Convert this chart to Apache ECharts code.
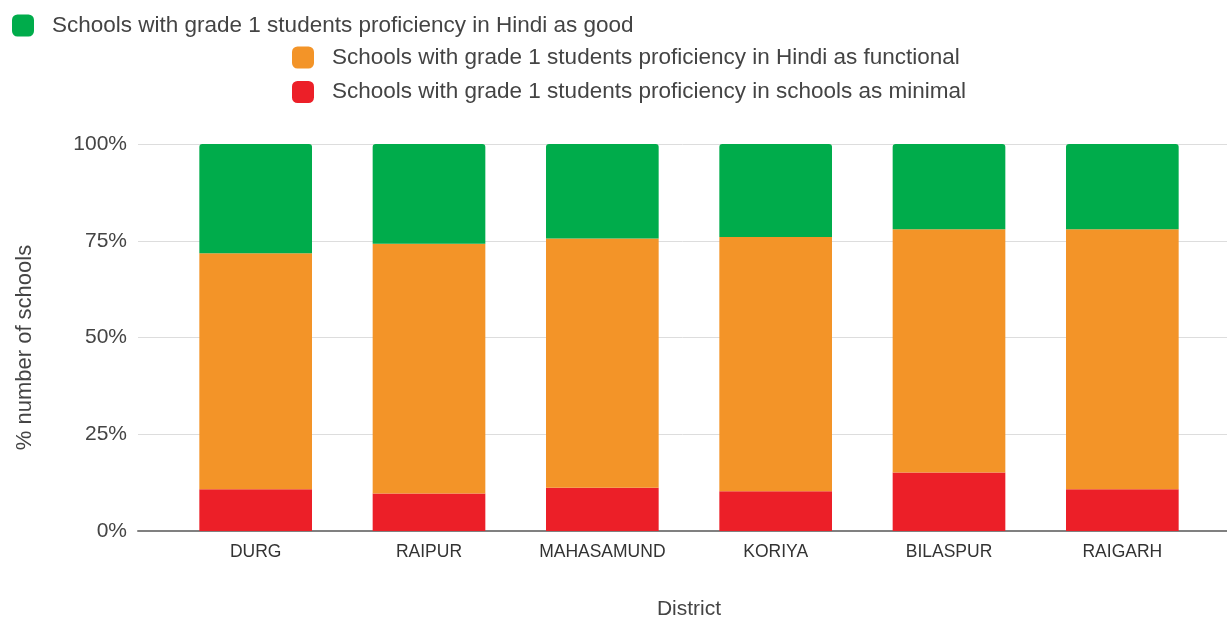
<!DOCTYPE HTML>
<html>
<head>
    <meta charset="utf-8">
    <title>Grade 1 Hindi proficiency by district</title>
    <script type="text/javascript" src="https://cdn.jsdelivr.net/npm/echarts@6/dist/echarts.min.js"></script>
</head>
<body style="padding:0px;margin:0px;background:#fff;">
    <div id="main" style="width:1227px;height:620px;padding:0px;margin:0px;"></div>
    <script type="text/javascript">
        // districts along the x axis
        var districts = ['DURG', 'RAIPUR', 'MAHASAMUND', 'KORIYA', 'BILASPUR', 'RAIGARH'];
        // share of schools (%) per proficiency level
        var minimalVals = [10.8, 9.7, 11.2, 10.3, 15.1, 10.8];
        var functionalVals = [61.0, 64.5, 64.4, 65.7, 62.9, 67.2];
        var goodVals = [28.2, 25.8, 24.4, 24.0, 22.0, 22.0];
        var yTicks = [0, 25, 50, 75, 100];

        var seriesNames = [
            'Schools with grade 1 students proficiency in Hindi as good',
            'Schools with grade 1 students proficiency in Hindi as functional',
            'Schools with grade 1 students proficiency in schools as minimal'
        ];

        var myChart = echarts.init(document.getElementById('main'));
        var fontFam = 'Liberation Sans, Arial, sans-serif';

        var legendStyle = {
            orient: 'vertical',
            icon: 'roundRect',
            itemWidth: 22,
            itemHeight: 22,
            itemGap: 11.5,
            textStyle: {
                color: '#444', fontSize: 22.5, lineHeight: 22, fontFamily: fontFam,
                padding: [0, 0, 0, 13]
            }
        };

        option = {
            backgroundColor: '#fff',
            animation: false,
            legend: [
                Object.assign({ left: 12, top: 14, padding: 0, data: [seriesNames[0]] }, legendStyle),
                Object.assign({ left: 292, top: 46, padding: 0, data: [seriesNames[1], seriesNames[2]] }, legendStyle)
            ],
            grid: [
                // background grid: gridlines, y labels, base line
                { left: 138, right: 0, top: 144, bottom: 89, outerBoundsMode: 'none' },
                // bar grid
                { left: 169, right: 18, top: 144, bottom: 89, outerBoundsMode: 'none' }
            ],
            xAxis: [
                {
                    type: 'value', gridIndex: 0, min: 0, max: 1,
                    axisLabel: { show: false }, axisTick: { show: false },
                    splitLine: { show: false },
                    axisLine: { show: true, onZero: false, lineStyle: { color: '#808080', width: 2 } }
                },
                {
                    type: 'category', gridIndex: 1, data: districts,
                    axisLine: { show: false }, axisTick: { show: false },
                    axisLabel: { color: '#333', fontSize: 17.5, fontFamily: fontFam, margin: 12 },
                    name: 'District', nameLocation: 'middle', nameGap: 68,
                    nameTextStyle: { color: '#444', fontSize: 21, fontFamily: fontFam }
                }
            ],
            yAxis: [
                {
                    type: 'value', gridIndex: 0, min: 0, max: 100, interval: 25,
                    axisLine: { show: false }, axisTick: { show: false },
                    axisLabel: {
                        color: '#444', fontSize: 21, fontFamily: fontFam, margin: 11,
                        formatter: function (v) { return yTicks.indexOf(v) >= 0 ? v + '%' : ''; }
                    },
                    splitLine: { lineStyle: { color: '#ddd', width: 1 } },
                    name: '% number of schools', nameLocation: 'middle', nameGap: 102,
                    nameTextStyle: { color: '#444', fontSize: 22, fontFamily: fontFam, padding: [0, 20, 0, 0] }
                },
                {
                    type: 'value', gridIndex: 1, min: 0, max: 100,
                    show: false, splitLine: { show: false }
                }
            ],
            series: [
                {
                    name: seriesNames[2], type: 'bar', stack: 'all', xAxisIndex: 1, yAxisIndex: 1,
                    barWidth: '65%', data: minimalVals,
                    itemStyle: { color: '#ec1f28' }
                },
                {
                    name: seriesNames[1], type: 'bar', stack: 'all', xAxisIndex: 1, yAxisIndex: 1,
                    barWidth: '65%', data: functionalVals,
                    itemStyle: { color: '#f39428' }
                },
                {
                    name: seriesNames[0], type: 'bar', stack: 'all', xAxisIndex: 1, yAxisIndex: 1,
                    barWidth: '65%', data: goodVals,
                    itemStyle: { color: '#00ac4b', borderRadius: [3, 3, 0, 0] }
                }
            ]
        };
        myChart.setOption(option);
    </script>
</body>
</html>
